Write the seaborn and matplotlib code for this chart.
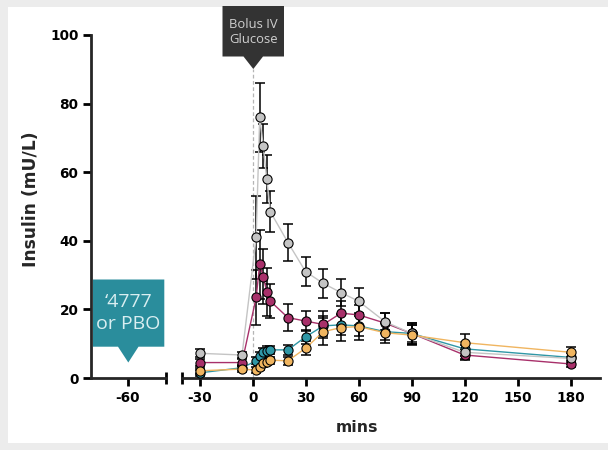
import numpy as np
import pandas as pd
import matplotlib
matplotlib.use("Agg")
import matplotlib.pyplot as plt
import seaborn as sns
from matplotlib.patches import Polygon, Rectangle

# ---------------- data ----------------
minutes = [-30, -6, 2, 4, 6, 8, 10, 20, 30, 40, 50, 60, 75, 90, 120, 180]

grey_mean = [7.2, 6.7, 41.0, 76.0, 67.6, 58.0, 48.5, 39.5, 31.0, 27.6, 24.9, 22.4, 16.4, 13.0, 7.5, 5.7]
grey_sem = [1.2, 1.0, 12.0, 10.0, 6.5, 7.0, 6.0, 5.4, 4.3, 4.2, 4.0, 3.7, 2.5, 3.0, 2.0, 1.5]

magenta_mean = [4.5, 4.5, 23.5, 33.1, 29.5, 25.2, 22.4, 17.6, 16.6, 15.6, 18.9, 18.4, 16.0, 13.0, 6.7, 4.1]
magenta_sem = [1.0, 1.0, 8.0, 10.0, 8.0, 7.0, 5.0, 4.0, 3.0, 4.0, 3.5, 3.0, 3.0, 3.0, 1.5, 1.0]

teal_mean = [1.5, 3.0, 5.0, 6.5, 7.5, 8.0, 8.2, 8.2, 12.0, 15.2, 15.5, 15.2, 13.5, 13.0, 8.5, 6.0]
teal_sem = [0.8, 0.8, 1.0, 1.2, 1.2, 1.2, 1.2, 1.5, 2.0, 3.0, 3.0, 3.0, 2.5, 2.5, 2.0, 1.5]

orange_mean = [2.1, 2.6, 2.3, 3.3, 4.3, 4.8, 5.2, 5.0, 8.7, 13.5, 14.7, 15.0, 13.2, 12.5, 10.3, 7.5]
orange_sem = [0.8, 0.8, 0.8, 1.0, 1.0, 1.0, 1.0, 1.2, 2.0, 4.0, 4.0, 4.0, 3.0, 3.0, 2.5, 1.5]

groups = ["teal", "magenta", "grey", "orange"]
means = {"grey": grey_mean, "magenta": magenta_mean, "teal": teal_mean, "orange": orange_mean}
sems = {"grey": grey_sem, "magenta": magenta_sem, "teal": teal_sem, "orange": orange_sem}

marker_colors = {"grey": "#d6d6d6", "magenta": "#8c1d52", "teal": "#23899a", "orange": "#f2a541"}
line_colors = {"grey": "#c4c4c4", "magenta": "#a8306a", "teal": "#2f97a6", "orange": "#f0b560"}

y_ticks = [0, 20, 40, 60, 80, 100]
x_ticks_right = [-30, 0, 30, 60, 90, 120, 150, 180]
x_ticks_left = [-60]

df = pd.concat(
    [pd.DataFrame({"mins": minutes, "insulin": means[g], "sem": sems[g], "group": g}) for g in groups],
    ignore_index=True,
)

# ---------------- figure ----------------
sns.set_style("ticks")
plt.rcParams["font.family"] = ["DejaVu Sans"]
plt.rcParams["axes.unicode_minus"] = False

W, H = 608, 450
fig = plt.figure(figsize=(W / 100, H / 100), dpi=100, facecolor="#ececec")
card = Rectangle((8 / W, 1 - 443 / H), 1.0, (443 - 7) / H, transform=fig.transFigure,
                 facecolor="white", edgecolor="none", zorder=-5)
fig.patches.append(card)

axL = fig.add_axes([91 / W, 72 / H, 75 / W, 343 / H])
axR = fig.add_axes([182 / W, 72 / H, 418 / W, 343 / H])
for ax in (axL, axR):
    ax.set_facecolor("none")
    ax.set_ylim(0, 100)

axL.set_xlim(-80.6, -38.5)
axR.set_xlim(-40, 196.7)

# error bars
for g in groups:
    sub = df[df.group == g]
    axR.errorbar(sub["mins"], sub["insulin"], yerr=sub["sem"], fmt="none", ecolor="black",
                 elinewidth=1.1, capsize=3.6, capthick=1.1, zorder=2, clip_on=False)

sns.lineplot(data=df, x="mins", y="insulin", hue="group", hue_order=groups,
             palette=line_colors, marker="o", markersize=6.6, markeredgecolor="black",
             markeredgewidth=0.8, linewidth=1.0, legend=False, errorbar=None, ax=axR,
             zorder=3)
for line, g in zip(axR.lines, groups):
    line.set_markerfacecolor(marker_colors[g])
    line.set_clip_on(False)

# dashed line at glucose bolus
axR.axvline(0, ymin=0, ymax=0.9, color="#b5b5b5", linestyle=(0, (3, 2)), linewidth=0.9, zorder=1)

# spines / ticks
for side in ("top", "right"):
    axL.spines[side].set_visible(False)
    axR.spines[side].set_visible(False)
axR.spines["left"].set_visible(False)
for sp in ("left", "bottom"):
    axL.spines[sp].set_linewidth(2.0)
axR.spines["bottom"].set_linewidth(2.0)

axL.set_yticks(y_ticks)
axL.set_xticks(x_ticks_left)
axR.set_xticks(x_ticks_right)
axR.set_yticks([])
for ax in (axL, axR):
    ax.tick_params(axis="both", width=2.0, length=6, labelsize=9.8, pad=3, colors="black")
    for lab in ax.get_xticklabels() + ax.get_yticklabels():
        lab.set_fontweight("bold")
    ax.set_xlabel("")
    ax.set_ylabel("")

# axis-break end caps
axL.plot([1, 1], [-0.018, 0.018], transform=axL.transAxes, color="black", lw=2, clip_on=False,
         solid_capstyle="butt")
axR.plot([0, 0], [-0.018, 0.018], transform=axR.transAxes, color="black", lw=2, clip_on=False,
         solid_capstyle="butt")

# axis labels
fig.text(357 / W, 1 - 428 / H, "mins", ha="center", va="center", fontsize=11.3, fontweight="bold")
fig.text(31 / W, 1 - 199 / H, "Insulin (mU/L)", ha="center", va="center", rotation=90,
         fontsize=12.3, fontweight="bold")


def px(x, y):
    return (x / W, 1 - y / H)


# Bolus IV Glucose callout
fig.patches.append(Polygon([px(222.5, 6), px(284, 6), px(284, 56.5), px(263, 56.5),
                            px(253.3, 69), px(243.5, 56.5), px(222.5, 56.5)],
                           closed=True, transform=fig.transFigure, facecolor="#333333",
                           edgecolor="none", zorder=5))
fig.text(253.5 / W, 1 - 24.5 / H, "Bolus IV", ha="center", va="center", fontsize=9.4,
         color="#cfcfcf", family=["Open Sans", "DejaVu Sans"], zorder=6)
fig.text(253.5 / W, 1 - 39.5 / H, "Glucose", ha="center", va="center", fontsize=9.4,
         color="#cfcfcf", family=["Open Sans", "DejaVu Sans"], zorder=6)

# '4777 or PBO callout
fig.patches.append(Polygon([px(93, 279.5), px(164.3, 279.5), px(164.3, 346.7), px(138.5, 346.7),
                            px(128.3, 362.5), px(118, 346.7), px(93, 346.7)],
                           closed=True, transform=fig.transFigure, facecolor="#2a8d9c",
                           edgecolor="none", zorder=5))
fig.text(128.3 / W, 1 - 302 / H, "\u20184777", ha="center", va="center", fontsize=14,
         color="#d9eef1", family=["Open Sans", "DejaVu Sans"], zorder=6)
fig.text(128.3 / W, 1 - 324 / H, "or PBO", ha="center", va="center", fontsize=14,
         color="#d9eef1", family=["Open Sans", "DejaVu Sans"], zorder=6)

fig.savefig("out.png", dpi=100, facecolor=fig.get_facecolor())
